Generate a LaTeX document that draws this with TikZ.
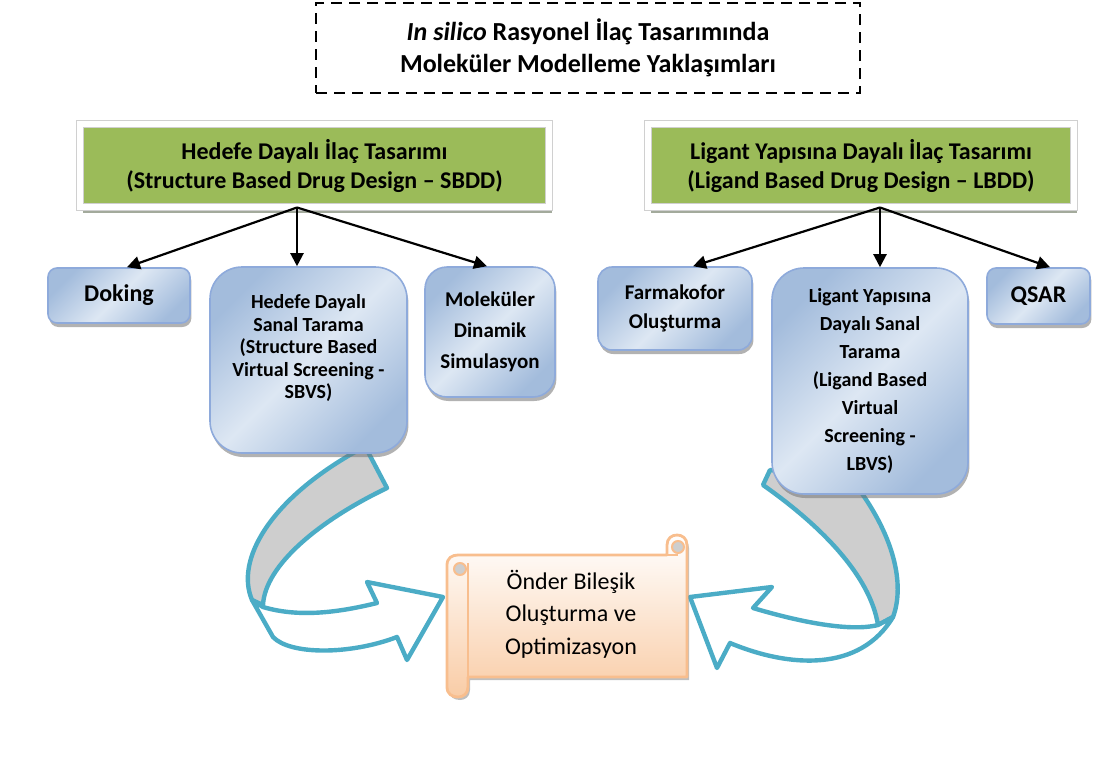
\documentclass[tikz,border=0pt]{standalone}
\usepackage{fontspec}
\setmainfont{Carlito}
\usepackage{tikz}
\usetikzlibrary{arrows.meta, shapes, positioning, calc, shadows}
\definecolor{headgreen}{HTML}{9BBB59}
\definecolor{frameline}{HTML}{D0D0D0}
\definecolor{frameshadow}{HTML}{A3AA9C}
\definecolor{taskline}{HTML}{8EAADB}
\definecolor{taskdark}{HTML}{A3BCDC}
\definecolor{tasklight}{HTML}{DDE7F3}
\definecolor{bandline}{HTML}{4BACC6}
\definecolor{bandgray}{HTML}{CECECE}
\definecolor{scrollline}{HTML}{F8BE8E}
\definecolor{scrollpeach}{HTML}{F9CCA6}
\tikzset{rect/.style = {
  rectangle,
  inner sep=1pt,
  text centered, align=center
  }}
\tikzset{titlebox/.style = {
  % Rectangle:
  rect,
  draw=black,
  dash pattern=on 5.5pt off 3.5pt,
  line width=1.2pt,
  % Text
  font=\fontsize{13}{16}\selectfont\bfseries
  }}
\tikzset{head/.style = {
  % Rectangle:
  rect,
  fill=headgreen,
  draw=frameline, double=white, double distance=3pt, line width=0.5pt,
  drop shadow={shadow xshift=1.5pt, shadow yshift=-3pt, fill=frameshadow, opacity=1},
  minimum height=41.5pt,
  % Text
  font=\fontsize{12}{14.5}\selectfont\bfseries
  }}
\tikzset{task/.style = {
  % Rectangle:
  rect,
  rounded corners=#1,
  draw=taskline, line width=0.8pt,
  top color=taskdark, bottom color=taskdark, middle color=tasklight,
  shading angle=45,
  drop shadow={shadow xshift=0.7pt, shadow yshift=-2pt, fill=black!55, opacity=0.55},
  % Text
  font=\fontsize{10.5}{14.5}\selectfont\bfseries
  }}
\tikzset{arrow/.style = {
  -{Triangle[length=6.5pt, width=6.5pt]},
  line width=1.1pt,
  draw=black
  }}
\tikzset{band/.style = {
  draw=bandline, fill=bandgray,
  line width=2.2pt, line join=round
  }}
\tikzset{bandfront/.style = {band, fill=white}}
\tikzset{scroll/.style = {
  draw=scrollline, line width=1.4pt, line join=round,
  top color=white, bottom color=scrollpeach,
  drop shadow={shadow xshift=1pt, shadow yshift=-1.5pt, fill=black!50, opacity=0.5}
  }}

\begin{document}
\begin{tikzpicture}[x=0.5pt, y=-0.5pt]
% LAYERS
\pgfdeclarelayer{bg}
\pgfsetlayers{bg,main}
\useasboundingbox (0,0) rectangle (1094,762);

% NODES
\node (baslik) [titlebox, minimum width=272pt, minimum height=45pt] at (588,48)
  {\textit{In silico} Rasyonel İlaç Tasarımında\\Moleküler Modelleme Yaklaşımları};

\node (sbdd) [head, minimum width=234.5pt] at (314.5,165.5)
  {Hedefe Dayalı İlaç Tasarımı\\(Structure Based Drug Design – SBDD)};
\node (lbdd) [head, minimum width=213pt] at (861,165.5)
  {Ligant Yapısına Dayalı İlaç Tasarımı\\(Ligand Based Drug Design – LBDD)};

\coordinate (sbddfoot) at ([xshift=-8.75pt]sbdd.south);
\coordinate (lbddfoot) at ([xshift=9.5pt]lbdd.south);

% curved arrows, back side
\begin{pgfonlayer}{bg}
\filldraw [band] (367,450) -- (387,488) .. controls (320,520) and (265,565) .. (263,605)
  -- (252,600) .. controls (235,560) and (270,500) .. (355,452) -- cycle;
\filldraw [band] (770,470) -- (763,485) .. controls (820,525) and (870,575) .. (878,625)
  -- (893,617) .. controls (905,585) and (895,535) .. (852,480) -- cycle;
\end{pgfonlayer}

\node (doking) [task=4.5pt, font=\fontsize{12}{14.5}\selectfont\bfseries,
  minimum width=71pt, minimum height=27.5pt] at (119,295.5) {Doking};
\node (sbvs) [task=16pt, font=\fontsize{10}{11.25}\selectfont\bfseries,
  minimum width=98.5pt, minimum height=93pt] at (308.5,360)
  {Hedefe Dayalı\\Sanal Tarama\\(Structure Based\\Virtual Screening -\\SBVS)\\\rule{0pt}{11pt}};
\node (md) [task=11pt, font=\fontsize{10.5}{15.5}\selectfont\bfseries,
  minimum width=65pt, minimum height=65pt] at (490,332)
  {Moleküler\\Dinamik\\Simulasyon};

\node (farmakofor) [task=7pt, minimum width=77pt, minimum height=41.5pt] at (675,308.5)
  {Farmakofor\\Oluşturma};
\node (lbvs) [task=16pt, font=\fontsize{10}{14}\selectfont\bfseries,
  minimum width=98pt, minimum height=113pt] at (870,381)
  {Ligant Yapısına\\Dayalı Sanal\\Tarama\\(Ligand Based\\Virtual\\Screening -\\LBVS)};
\node (qsar) [task=4.5pt, font=\fontsize{12}{14.5}\selectfont\bfseries,
  minimum width=51.5pt, minimum height=28pt] at (1038.5,296) {QSAR};

% arrows
\draw [arrow] (sbddfoot) -- ([xshift=4pt]doking.north);
\draw [arrow] (sbddfoot) -- (sbvs.north -| sbddfoot);
\draw [arrow] (sbddfoot) -- ([xshift=-1.5pt]md.north);

\draw [arrow] (lbddfoot) -- ([xshift=9pt]farmakofor.north);
\draw [arrow] (lbddfoot) -- (lbvs.north -| lbddfoot);
\draw [arrow] (lbddfoot) -- ([xshift=5.75pt]qsar.north);

% curved arrows, front side
\filldraw [bandfront] (263,607) .. controls (300,618) and (340,612) .. (377,603)
  -- (367,582) -- (443,597) -- (407,660) -- (397,637)
  .. controls (350,655) and (290,655) .. (273,637) -- (252,600) -- cycle;
\filldraw [bandfront] (878,625) .. controls (850,632) and (800,622) .. (753,608)
  -- (772,587) -- (690,597) -- (717,668) -- (730,643)
  .. controls (790,668) and (860,672) .. (893,617) -- cycle;

% scroll
\path [scroll] (447,565) .. controls (447,558) and (452,555) .. (458,555) -- (667,555)
  -- (667,545) .. controls (667,538) and (672,535) .. (677,535)
  .. controls (682,535) and (687,538) .. (687,545) -- (687,677) -- (468,677)
  -- (468,687) .. controls (468,694) and (463,697) .. (458,697)
  .. controls (452,697) and (447,694) .. (447,687) -- cycle;
\draw [scrollline, line width=1.4pt] (468,563) -- (468,677);
\filldraw [draw=scrollline, fill=bandgray, line width=1pt] (460,569) circle (3pt);
\filldraw [draw=scrollline, fill=bandgray, line width=1pt] (678,547) circle (3pt);
\draw [scrollline, line width=1.4pt] (667,555) -- (678,555);

\node (onder) [rect, font=\fontsize{12}{16.25}\selectfont] at (571,614)
  {Önder Bileşik\\Oluşturma ve\\Optimizasyon};
\end{tikzpicture}
\end{document}
